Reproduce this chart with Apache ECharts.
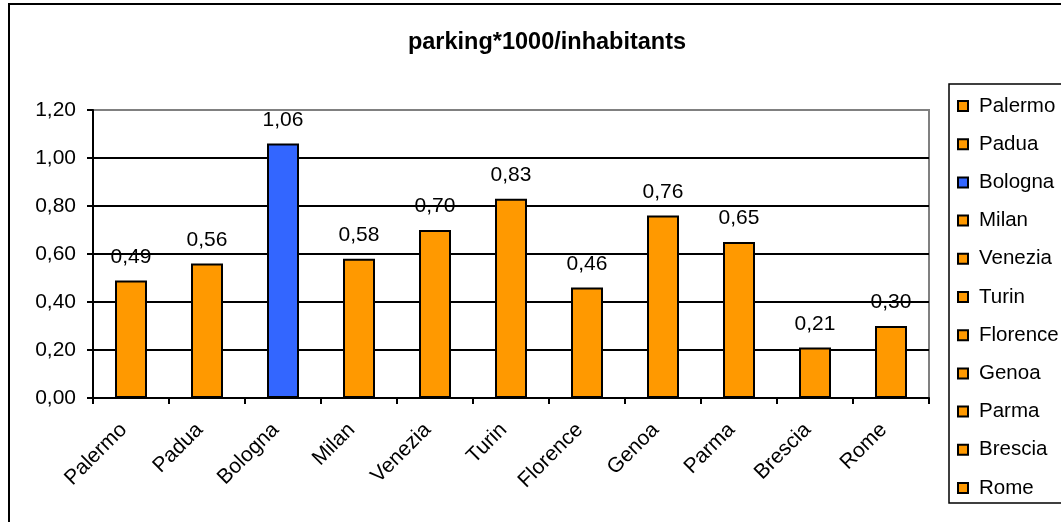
<!DOCTYPE html>
<html>
<head>
<meta charset="utf-8">
<script src="https://cdn.jsdelivr.net/npm/echarts@6/dist/echarts.min.js"></script>
<style>
  html, body { margin: 0; padding: 0; background: #ffffff; }
  #chart { width: 1061px; height: 522px; }
</style>
</head>
<body>
<div id="chart"></div>
<script>
  var cities = ['Palermo', 'Padua', 'Bologna', 'Milan', 'Venezia', 'Turin', 'Florence', 'Genoa', 'Parma', 'Brescia', 'Rome'];
  var values = [0.49, 0.56, 1.06, 0.58, 0.70, 0.83, 0.46, 0.76, 0.65, 0.21, 0.30];
  var barColors = ['#FF9900', '#FF9900', '#3366FF', '#FF9900', '#FF9900', '#FF9900', '#FF9900', '#FF9900', '#FF9900', '#FF9900', '#FF9900'];

  var fontFamily = '"Liberation Sans", Arial, sans-serif';

  function comma(v) {
    return Number(v).toFixed(2).replace('.', ',');
  }

  // one series per city so the legend lists every city
  var series = cities.map(function (name, i) {
    return {
      name: name,
      type: 'bar',
      barWidth: 32,
      barGap: '-100%',
      data: cities.map(function (c, j) { return j === i ? values[i] : '-'; }),
      itemStyle: { color: barColors[i], borderColor: '#000', borderWidth: 2 },
      label: {
        show: true,
        position: 'top',
        distance: 13,
        color: '#000',
        fontSize: 21,
        fontFamily: fontFamily,
        formatter: function (p) { return comma(p.value); }
      }
    };
  });

  var chart = echarts.init(document.getElementById('chart'));
  chart.setOption({
    animation: false,
    textStyle: { fontFamily: fontFamily },
    graphic: [{
      type: 'rect',
      shape: { x: 9, y: 4, width: 1080, height: 540 },
      style: { fill: 'none', stroke: '#000', lineWidth: 2 },
      silent: true
    }],
    title: {
      text: 'parking*1000/inhabitants',
      left: 542,
      top: 26,
      textAlign: 'center',
      textStyle: { fontSize: 23.5, fontWeight: 'bold', color: '#000', fontFamily: fontFamily }
    },
    legend: {
      orient: 'vertical',
      left: 949,
      top: 84,
      padding: [11, 14, 4, 8],
      itemGap: 16.2,
      itemWidth: 10,
      itemHeight: 10,
      icon: 'rect',
      borderColor: '#000',
      borderWidth: 1.5,
      textStyle: { fontSize: 20.5, color: '#000', fontFamily: fontFamily, lineHeight: 22, padding: [0, 0, 0, 6] },
      data: cities
    },
    grid: { left: 93, top: 110, right: 132, bottom: 124, show: true, borderColor: '#808080', borderWidth: 2 },
    xAxis: {
      type: 'category',
      data: cities,
      axisLine: { lineStyle: { color: '#000', width: 2 } },
      axisTick: { show: true, interval: 0, length: 6, lineStyle: { color: '#000', width: 2 } },
      axisLabel: { interval: 0, rotate: 45, fontSize: 21, color: '#000', margin: 36, verticalAlign: 'bottom', fontFamily: fontFamily }
    },
    yAxis: {
      type: 'value',
      min: 0,
      max: 1.2,
      interval: 0.2,
      axisLine: { show: true, lineStyle: { color: '#000', width: 2 } },
      axisTick: { show: true, length: 6, lineStyle: { color: '#000', width: 2 } },
      axisLabel: { fontSize: 21, color: '#000', margin: 17, fontFamily: fontFamily, formatter: comma },
      splitLine: { lineStyle: { color: ['#000', '#000', '#000', '#000', '#000', '#000', '#808080'], width: 2 } }
    },
    series: series
  });
</script>
</body>
</html>
